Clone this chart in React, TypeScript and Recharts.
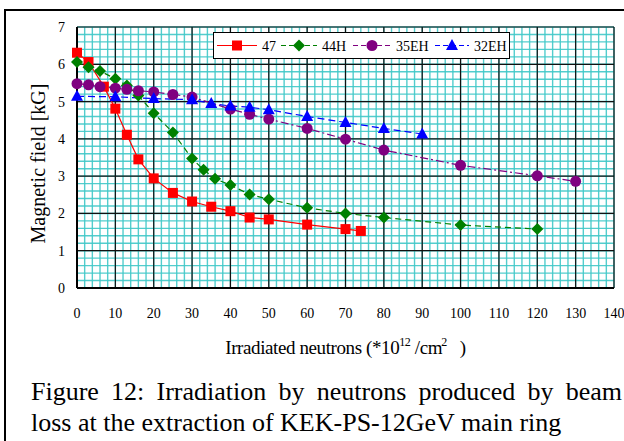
import { LineChart, Line, XAxis, YAxis, CartesianGrid, Legend } from "recharts";

// Series 47
const x47 = [0, 3, 7, 10, 13, 16, 20, 25, 30, 35, 40, 45, 50, 60, 70, 74];
const y47 = [6.31, 6.06, 5.4, 4.81, 4.11, 3.45, 2.94, 2.55, 2.32, 2.18, 2.06, 1.89, 1.84, 1.7, 1.58, 1.53];

// Series 44H
const x44H = [0, 3, 6, 10, 13, 16, 20, 25, 30, 33, 36, 40, 45, 50, 60, 70, 80, 100, 120];
const y44H = [6.06, 5.92, 5.82, 5.61, 5.43, 5.16, 4.69, 4.17, 3.47, 3.17, 2.93, 2.76, 2.51, 2.38, 2.15, 2.0, 1.89, 1.69, 1.58];

// Series 35EH
const x35EH = [0, 3, 6, 10, 13, 16, 20, 25, 30, 40, 45, 50, 60, 70, 80, 100, 120, 130];
const y35EH = [5.48, 5.45, 5.4, 5.36, 5.33, 5.29, 5.26, 5.19, 5.12, 4.8, 4.66, 4.53, 4.28, 3.99, 3.7, 3.29, 3.01, 2.86];

// Series 32EH
const x32EH = [0, 10, 20, 30, 35, 40, 45, 50, 60, 70, 80, 90];
const y32EH = [5.14, 5.13, 5.08, 5.05, 4.95, 4.88, 4.85, 4.78, 4.6, 4.44, 4.28, 4.13];

const xTicks = [0, 10, 20, 30, 40, 50, 60, 70, 80, 90, 100, 110, 120, 130, 140];
const yTicks = [0, 1, 2, 3, 4, 5, 6, 7];
const xMinor = Array.from({ length: 71 }, (_, i) => i * 2);
const yMinor = Array.from({ length: 36 }, (_, i) => Math.round(i * 2) / 10);

const toPoints = (xs: number[], ys: number[]) => xs.map((x, i) => ({ x, y: ys[i] }));

const FONT = '"Liberation Serif", "Times New Roman", serif';

type Shape = "square" | "diamond" | "circle" | "triangle";

const series = [
  { name: "47", data: toPoints(x47, y47), color: "#ff0000", dash: undefined, shape: "square" as Shape },
  { name: "44H", data: toPoints(x44H, y44H), color: "#008000", dash: "6 4", shape: "diamond" as Shape },
  { name: "35EH", data: toPoints(x35EH, y35EH), color: "#800080", dash: "8 3 2 3", shape: "circle" as Shape },
  { name: "32EH", data: toPoints(x32EH, y32EH), color: "#0000ff", dash: "7 4", shape: "triangle" as Shape },
];

const marker = (shape: Shape, color: string, cx: number, cy: number, key?: any) => {
  if (shape === "square") return <rect key={key} x={cx - 5} y={cy - 5} width={10} height={10} fill={color} />;
  if (shape === "diamond")
    return <polygon key={key} points={`${cx},${cy - 6} ${cx + 6},${cy} ${cx},${cy + 6} ${cx - 6},${cy}`} fill={color} />;
  if (shape === "circle") return <circle key={key} cx={cx} cy={cy} r={5.5} fill={color} />;
  return <polygon key={key} points={`${cx},${cy - 6.5} ${cx + 6},${cy + 4.5} ${cx - 6},${cy + 4.5}`} fill={color} />;
};

const renderLegend = () => (
  <svg width={297} height={27} style={{ display: "block", background: "#fff" }}>
    <rect x={0.5} y={0.5} width={296} height={26} fill="#fff" stroke="#000" />
    {series.map((s, i) => {
      const starts = [4, 68, 140, 222];
      const iconW = [40, 36, 38, 34];
      const x0 = starts[i];
      const mid = x0 + iconW[i] / 2;
      return (
        <g key={s.name}>
          <line x1={x0} x2={x0 + iconW[i]} y1={13.5} y2={13.5} stroke={s.color} strokeWidth={1.2} strokeDasharray={s.dash ? "5 3" : undefined} />
          {marker(s.shape, s.color, mid, 13.5)}
          <text x={x0 + iconW[i] + 5} y={18.5} fontFamily={FONT} fontSize={14} fill="#000">
            {s.name}
          </text>
        </g>
      );
    })}
  </svg>
);

const XLabel = (props: any) => {
  const vb = props.viewBox || { x: 77, y: 288, width: 536 };
  const cx = vb.x + vb.width / 2;
  const y = vb.y + 66;
  return (
    <text x={cx} y={y} textAnchor="middle" fontFamily={FONT} fontSize={19} letterSpacing={-0.4} fill="#000" style={{ whiteSpace: "pre" }}>
      Irradiated neutrons (*10
      <tspan dy={-8} fontSize={12}>12</tspan>
      <tspan dy={8}> /cm</tspan>
      <tspan dy={-8} dx={-1} fontSize={12}>2</tspan>
      <tspan dy={8}>{"   )"}</tspan>
    </text>
  );
};

const YLabel = (props: any) => {
  const vb = props.viewBox || { x: 0, y: 27, height: 261 };
  const cx = 45;
  const cy = vb.y + vb.height / 2 + 6;
  return (
    <text x={cx} y={cy} transform={`rotate(-90 ${cx} ${cy})`} textAnchor="middle" fontFamily={FONT} fontSize={20} fill="#000">
      Magnetic field [kG]
    </text>
  );
};

const App = () => {
  return (
    <div style={{ position: "fixed", left: 0, top: 0, width: 624, height: 441, background: "#fff", overflow: "hidden", fontFamily: FONT }}>
      <div style={{ position: "absolute", left: 4, top: 9, width: 700, height: 500, border: "2px solid #000" }} />
      <div style={{ position: "absolute", left: 0, top: 0 }}>
        <LineChart width={624} height={370} margin={{ top: 27, right: 10, left: 0, bottom: 0 }}>
          <CartesianGrid verticalValues={xMinor} horizontalValues={yMinor} stroke="#40c8c8" strokeWidth={1.4} strokeOpacity={0.9} />
          <CartesianGrid verticalValues={xTicks} horizontalValues={yTicks} stroke="#111" strokeWidth={1.2} />
          <XAxis
            type="number"
            dataKey="x"
            domain={[0, 140]}
            ticks={xTicks}
            interval={0}
            height={82}
            tickLine={false}
            tickSize={0}
            tickMargin={20}
            axisLine={{ stroke: "#000", strokeWidth: 2 }}
            tick={{ fill: "#000", fontSize: 14, fontFamily: FONT }}
            label={{ content: XLabel }}
          />
          <YAxis
            type="number"
            dataKey="y"
            domain={[0, 7]}
            ticks={yTicks}
            interval={0}
            width={77}
            tickLine={false}
            tickSize={0}
            tickMargin={12}
            axisLine={{ stroke: "#000", strokeWidth: 2 }}
            tick={{ fill: "#000", fontSize: 14, fontFamily: FONT }}
            label={{ content: YLabel }}
          />
          {series.map((s) => (
            <Line
              key={s.name}
              data={s.data}
              dataKey="y"
              name={s.name}
              type="linear"
              stroke={s.color}
              strokeWidth={1.2}
              strokeDasharray={s.dash}
              isAnimationActive={false}
              activeDot={false}
              dot={(p: any) => marker(s.shape, s.color, p.cx, p.cy, `${s.name}-${p.index}`)}
            />
          ))}
          <Legend
            layout="vertical"
            verticalAlign="middle"
            align="center"
            content={renderLegend}
            wrapperStyle={{ left: 213, top: 32, width: 297, height: 27 }}
          />
        </LineChart>
      </div>
      <div style={{ position: "absolute", left: 31, top: 376, width: 591, fontSize: 26, lineHeight: "31px", color: "#000" }}>
        <div style={{ textAlign: "justify", textAlignLast: "justify", whiteSpace: "nowrap" as any }}>
          Figure 12: Irradiation by neutrons produced by beam
        </div>
        <div style={{ whiteSpace: "nowrap" as any }}>loss at the extraction of KEK-PS-12GeV main ring</div>
      </div>
    </div>
  );
};

export default App;
